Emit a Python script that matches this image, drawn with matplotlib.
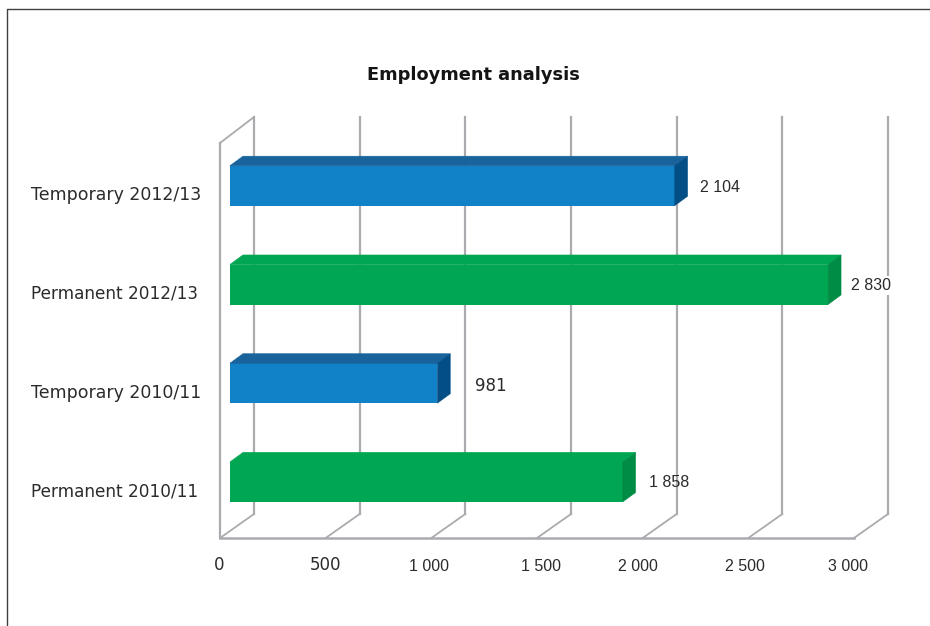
import matplotlib
matplotlib.use("Agg")
import matplotlib.pyplot as plt
from matplotlib.lines import Line2D
from matplotlib.patches import Polygon
from matplotlib.transforms import ScaledTranslation

categories = ["Permanent 2010/11", "Temporary 2010/11", "Permanent 2012/13", "Temporary 2012/13"]
values = [1858, 981, 2830, 2104]
value_labels = ["1 858", "981", "2 830", "2 104"]
face_colors = ["#00A651", "#1181C8", "#00A651", "#1181C8"]
top_colors = ["#00A651", "#18639B", "#00A651", "#18639B"]
side_colors = ["#008C44", "#034E85", "#008C44", "#034E85"]
x_ticks = [0, 500, 1000, 1500, 2000, 2500, 3000]
x_tick_labels = ["0", "500", "1 000", "1 500", "2 000", "2 500", "3 000"]

W, H = 930, 626
GRID = "#A9ABAE"
TEXT = "#2B2B2B"
fig = plt.figure(figsize=(W / 100, H / 100), dpi=100, facecolor="white")
ax = fig.add_axes([220 / W, (H - 538) / H, 634 / W, 395 / H])
ax.set_xlim(0, 3000)
ax.set_ylim(-0.5, 3.5)
ax.patch.set_visible(False)
for s in ax.spines.values():
    s.set_visible(False)

px_x = 3000 / 634
px_y = 4 / 395
wall_dx, wall_dy = 34 * px_x, 24 * px_y

# walls and gridlines
for t in x_ticks:
    ax.add_line(Line2D([t, t + wall_dx], [-0.5, -0.5 + wall_dy], color=GRID, lw=1.3, clip_on=False, zorder=1))
    ax.add_line(Line2D([t + wall_dx, t + wall_dx], [-0.5 + wall_dy, 3.5 + 26 * px_y], color=GRID, lw=1.6, clip_on=False, zorder=1))
ax.add_line(Line2D([0, 0], [-0.5, 3.5], color=GRID, lw=1.6, clip_on=False, zorder=1))
ax.add_line(Line2D([0, wall_dx], [3.5, 3.5 + 26 * px_y], color=GRID, lw=1.3, clip_on=False, zorder=1))
ax.add_line(Line2D([0, 3000], [-0.5, -0.5], color=GRID, lw=1.8, clip_on=False, zorder=1))

# bars
shift_x, shift_y = 10 * px_x, 6.6 * px_y
bar_h = 40 * px_y
ddx, ddy = 13 * px_x, 9.5 * px_y
for i, v in enumerate(values):
    y0 = i + shift_y - bar_h / 2
    y1 = y0 + bar_h
    x0, x1 = shift_x, shift_x + v
    ax.barh(i + shift_y, v, height=bar_h, left=x0, color=face_colors[i], lw=0, zorder=3)
    ax.add_patch(Polygon([(x0, y1), (x0 + ddx, y1 + ddy), (x1 + ddx, y1 + ddy), (x1, y1)],
                         closed=True, fc=top_colors[i], ec=top_colors[i], lw=0.5, zorder=3.5, clip_on=False))
    ax.add_patch(Polygon([(x1, y0), (x1 + ddx, y0 + ddy), (x1 + ddx, y1 + ddy), (x1, y1)],
                         closed=True, fc=side_colors[i], ec=side_colors[i], lw=0.3, zorder=3.6, clip_on=False))

# data labels: (left-edge gap past value, px above category centre)
label_off = [(26, 6), (38, 3.5), (23, 6), (25, 5)]
for i, (v, s) in enumerate(zip(values, value_labels)):
    dx, dy = label_off[i]
    is_plain = s == "981"
    ax.annotate(s, xy=(shift_x + v, i), xytext=(dx * 0.72, dy * 0.72), textcoords="offset points",
                ha="left", va="center", color=TEXT, zorder=4,
                family="DejaVu Sans" if is_plain else "Liberation Sans",
                fontsize=12 if is_plain else 11.5,
                bbox=dict(fc="white", ec="none", pad=1.5) if s == "2 830" else None,
                annotation_clip=False)

# axes ticks
ax.set_xticks(x_ticks)
ax.set_xticklabels(x_tick_labels)
ax.set_yticks(range(len(categories)))
ax.set_yticklabels(categories)
ax.tick_params(axis="both", length=0)
ax.tick_params(axis="x", pad=14)
ax.tick_params(axis="y", pad=189 * 0.72)

x_nudge = [-1, 0, -2, 4, -5, -3.5, -6]
for j, lab in enumerate(ax.get_xticklabels()):
    lab.set_color(TEXT)
    if j < 2:
        lab.set_family("DejaVu Sans")
        lab.set_fontsize(12)
        up = 1
    else:
        lab.set_family("Liberation Sans")
        lab.set_fontsize(11.5)
        up = -2
    lab.set_transform(lab.get_transform() + ScaledTranslation(x_nudge[j] / 100, up / 100, fig.dpi_scale_trans))
for lab in ax.get_yticklabels():
    lab.set_ha("left")
    lab.set_family("DejaVu Sans")
    lab.set_fontsize(12.2 if lab.get_text().startswith("Permanent") else 12.5)
    lab.set_color(TEXT)
    lab.set_transform(lab.get_transform() + ScaledTranslation(0, -0.8 / 100, fig.dpi_scale_trans))

fig.text(473.5 / W, 1 - 75 / H, "Employment analysis", ha="center", va="center",
         family="DejaVu Sans", fontweight="bold", fontsize=12.75, color="#141414")

# outer frame
fig.add_artist(Line2D([6.5 / W, 6.5 / W, 1], [0, 1 - 9 / H, 1 - 9 / H], color="#404040", lw=1.0))

fig.savefig("out.png", dpi=100, facecolor="white")
